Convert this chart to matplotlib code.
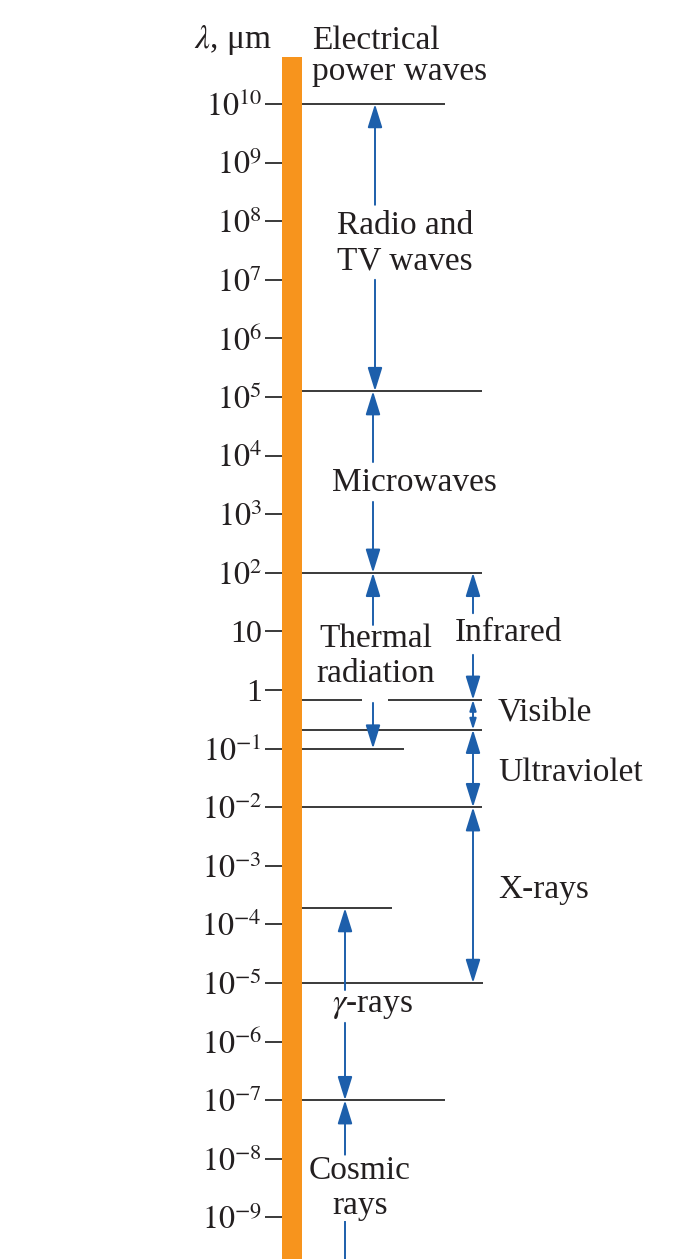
import numpy as np
import matplotlib
matplotlib.use("Agg")
import matplotlib.pyplot as plt
from matplotlib.ticker import NullLocator

plt.rcParams['font.family'] = ['Liberation Serif', 'DejaVu Serif']
plt.rcParams['mathtext.fontset'] = 'stix'

# tick decades of the wavelength axis (micrometres)
decades = list(range(10, -10, -1))
tick_labels = []
for k in decades:
    if k == 1:
        tick_labels.append('10')
    elif k == 0:
        tick_labels.append('1')
    else:
        tick_labels.append(r'$10^{%d}$' % k)

# band boundary lines (wavelength in um) and how far right each line runs
boundaries = [1e10, 1.26e5, 1e2, 0.68, 0.21, 0.1, 1e-2, 1.9e-4, 1e-5, 1e-7]
line_right = [445, 482, 482, 482, 482, 404, 482, 392, 483, 445]

# bands: label, upper / lower limit (um)
band_names = ['Radio and\nTV waves', 'Microwaves', 'Thermal\nradiation', 'Infrared',
              'Visible', 'Ultraviolet', 'X-rays', r'$\gamma$-rays', 'Cosmic\nrays']
band_top = [1e10, 1.26e5, 1e2, 1e2, 0.68, 0.21, 1e-2, 1.9e-4, 1e-7]
band_bottom = [1.26e5, 1e2, 0.1, 0.68, 0.21, 1e-2, 1e-5, 1e-7, 1e-10]

blue = '#1d5fab'
grey = '#3a3a3a'
orange = '#f7941d'
ink = '#231f20'

fig = plt.figure(figsize=(6.86, 12.59), dpi=100)
ax = fig.add_axes([0, 0, 1, 1])
ax.set_xlim(0, 686)
ax.set_yscale('log')
ax.set_ylim(10 ** -9.71, 10 ** 11.775)

for s in ['top', 'right', 'bottom']:
    ax.spines[s].set_visible(False)
ax.spines['left'].set_position(('data', 282))
ax.spines['left'].set_color('none')
ax.xaxis.set_visible(False)
ax.set_yticks([10.0 ** k for k in decades])
ax.set_yticklabels(tick_labels)
ax.yaxis.set_minor_locator(NullLocator())
ax.tick_params(axis='y', length=12.5, width=1.4, color=grey, pad=2,
               labelsize=23, labelcolor=ink)

# orange wavelength bar
ax.axvspan(282, 302, ymin=0, ymax=1 - 57 / 1259, color=orange, zorder=3, lw=0)

# boundary lines (the one at 0.68 um is broken where the thermal arrow passes)
for b, xr in zip(boundaries, line_right):
    if b == 0.68:
        ax.hlines(b, 302, 362, color=grey, lw=1.4)
        ax.hlines(b, 388, xr, color=grey, lw=1.4)
    else:
        ax.hlines(b, 302, xr, color=grey, lw=1.4)


def arrow(x, y_from, y_to, style='-|>', scale=16):
    ax.annotate('', xy=(x, y_to), xytext=(x, y_from),
                arrowprops=dict(arrowstyle=style + ',head_length=0.9,head_width=0.28',
                                mutation_scale=scale, color=blue, lw=1.4,
                                shrinkA=0, shrinkB=0))


fs = 24
# arrow x, gap upper end, gap lower end (log10 um), label x, label y (log10 um), alignment
layout = [
    (375, 8.28, 7.0, 405, 7.62, 'center'),
    (373, 3.89, 3.21, 414, 3.53, 'center'),
    (373, 1.11, -0.22, 376, 0.58, 'center'),
    (473, 1.31, 0.60, 508, 0.97, 'center'),
    (473, None, None, 498, -0.38, 'left'),
    (473, None, None, 498, -1.42, 'left'),
    (473, None, None, 498, -3.41, 'left'),
    (345, -5.12, -5.68, 373, -5.38, 'center'),
    (345, -7.93, -9.08, 360, -8.50, 'center'),
]

for name, top, bot, (ax_x, g1, g2, lx, ly, ha) in zip(band_names, band_top, band_bottom, layout):
    if g1 is None:
        sc = 7 if name == 'Visible' else 16
        arrow(ax_x, bot, top, '<|-|>', sc)
    else:
        arrow(ax_x, 10 ** g1, top)
        if bot < 1e-9:
            ax.plot([ax_x, ax_x], [10 ** g2, bot], color=blue, lw=1.4)
        else:
            arrow(ax_x, 10 ** g2, bot)
    ax.text(lx, 10 ** ly, name, ha=ha, va='center', fontsize=fs,
            color=ink, linespacing=1.2)

ax.text(312, 10 ** 10.82, 'Electrical\npower waves', ha='left', va='center',
        fontsize=fs, color=ink, linespacing=1.02)
ax.text(272, 10 ** 11.09, r'$\lambda$, μm', ha='right', va='center',
        fontsize=fs, color=ink)

fig.savefig('out.png', dpi=100)
